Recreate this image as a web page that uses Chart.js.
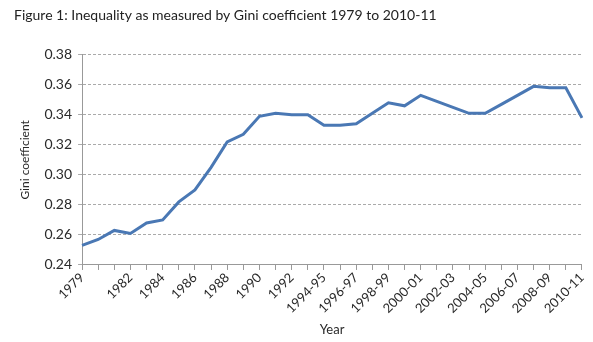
<!DOCTYPE html>
<html>
<head>
<meta charset="utf-8">
<script src="https://cdn.jsdelivr.net/npm/chart.js@4.4.1/dist/chart.umd.min.js"></script>
<style>
  html, body { margin: 0; padding: 0; background: #fff; }
  #wrap { width: 593px; height: 342px; }
</style>
</head>
<body>
<div id="wrap"><canvas id="gini" width="593" height="342"></canvas></div>
<script>
// --- Data ---
const years = [
  "1979", "1980", "1981", "1982", "1983", "1984", "1985", "1986", "1987", "1988",
  "1989", "1990", "1991", "1992", "1993", "1994-95", "1995-96", "1996-97", "1997-98",
  "1998-99", "1999-00", "2000-01", "2001-02", "2002-03", "2003-04", "2004-05",
  "2005-06", "2006-07", "2007-08", "2008-09", "2009-10", "2010-11"
];
const gini = [
  0.253, 0.257, 0.263, 0.261, 0.268, 0.270, 0.282, 0.290, 0.305, 0.322,
  0.327, 0.339, 0.341, 0.340, 0.340, 0.333, 0.333, 0.334, 0.341,
  0.348, 0.346, 0.353, 0.349, 0.345, 0.341, 0.341,
  0.347, 0.353, 0.359, 0.358, 0.358, 0.338
];
// only these category labels are printed on the axis
const shownLabels = [
  "1979", "1982", "1984", "1986", "1988", "1990", "1992", "1994-95", "1996-97",
  "1998-99", "2000-01", "2002-03", "2004-05", "2006-07", "2008-09", "2010-11"
];
const yTicks = [0.24, 0.26, 0.28, 0.30, 0.32, 0.34, 0.36, 0.38];

window.addEventListener("load", function () {
  const ctx = document.getElementById("gini").getContext("2d");

  new Chart(ctx, {
    type: "line",
    data: {
      labels: years,
      datasets: [{
        label: "Gini coefficient",
        data: gini,
        borderColor: "#4a78b4",
        borderWidth: 3,
        pointRadius: 0,
        tension: 0,
        fill: false
      }]
    },
    options: {
      responsive: false,
      animation: false,
      layout: { padding: { left: 14, right: 4, top: 2, bottom: 0 } },
      plugins: {
        legend: { display: false },
        tooltip: { enabled: false },
        title: {
          display: true,
          text: "Figure 1: Inequality as measured by Gini coefficient 1979 to 2010-11",
          align: "start",
          color: "#222",
          font: { family: "Lato", size: 14, weight: "normal" },
          padding: { top: 5, bottom: 31 }
        }
      },
      scales: {
        x: {
          offset: false,
          grid: {
            drawOnChartArea: false,
            drawTicks: true,
            tickLength: 5,
            color: "#999"
          },
          border: { color: "#999", width: 1 },
          ticks: {
            autoSkip: false,
            maxRotation: 45,
            minRotation: 45,
            padding: 0,
            color: "#2a2a2a",
            font: { family: "Lato", size: 13 },
            callback: function (val) {
              const lab = this.getLabelForValue(val);
              return shownLabels.includes(lab) ? lab : "";
            }
          },
          title: {
            display: true,
            text: "Year",
            color: "#2a2a2a",
            font: { family: "Lato", size: 13 },
            padding: { top: 6 }
          }
        },
        y: {
          min: 0.24,
          max: 0.38,
          afterBuildTicks: function (axis) {
            axis.ticks = yTicks.map(v => ({ value: v }));
          },
          grid: {
            color: "#aaa",
            tickLength: 4,
            drawTicks: true
          },
          // in v4 border.dash styles the grid lines
          border: { color: "#999", width: 1, dash: [3, 2] },
          ticks: {
            color: "#2a2a2a",
            padding: 6,
            font: { family: "Lato", size: 14 },
            callback: v => v.toFixed(2)
          },
          title: {
            display: true,
            text: "Gini coefficient",
            color: "#2a2a2a",
            font: { family: "Lato", size: 12 },
            padding: { bottom: 6 }
          }
        }
      }
    }
  });
});
</script>
</body>
</html>
